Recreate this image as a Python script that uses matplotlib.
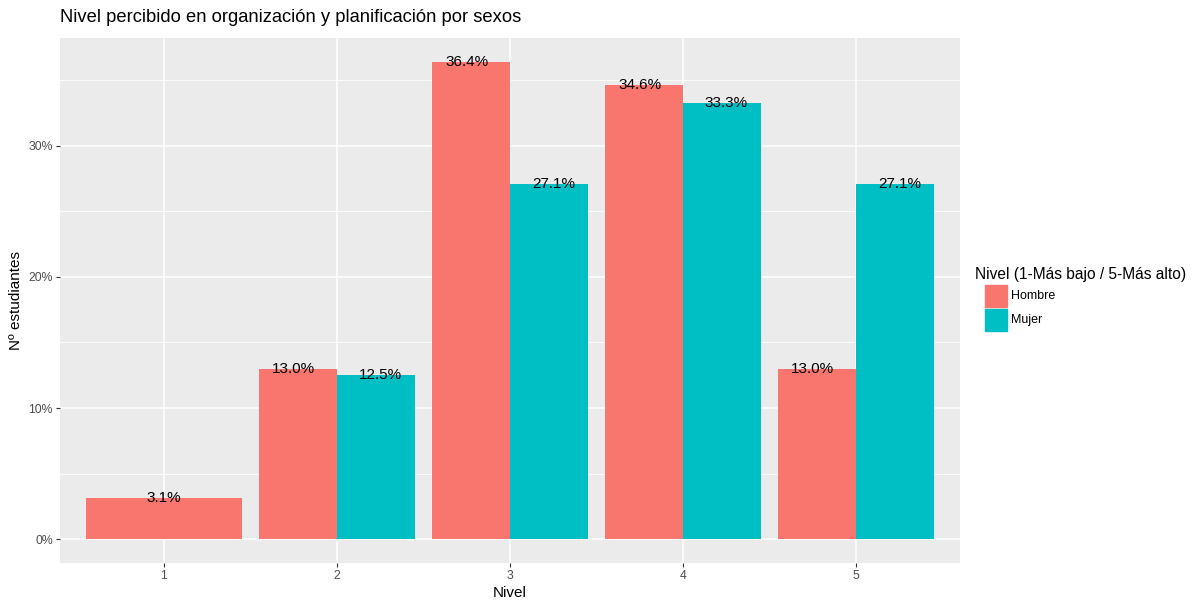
import numpy as np
import matplotlib.pyplot as plt
from matplotlib.patches import Rectangle

plt.rcParams['font.family'] = ['Liberation Sans', 'DejaVu Sans']

niveles = [1, 2, 3, 4, 5]
hombre = [3.1, 13.0, 36.4, 34.6, 13.0]
mujer = [None, 12.5, 27.1, 33.3, 27.1]
colores = {'Hombre': '#F8766D', 'Mujer': '#00BFC4'}

fig = plt.figure(figsize=(11.99, 6.0), dpi=100)
ax = fig.add_axes([60 / 1199, 37 / 600, 900 / 1199, 525 / 600])
ax.set_facecolor('#EBEBEB')

w = 0.9
dt = 0.25  # desplazamiento de etiquetas (dodge width 1)
fs_lab = 11
for x, h, m in zip(niveles, hombre, mujer):
    if m is None:
        ax.bar(x, h, width=w, color=colores['Hombre'], zorder=2)
        ax.text(x, h, f'{h:.1f}%', ha='center', va='center', fontsize=fs_lab, zorder=3)
    else:
        ax.bar(x - w / 4, h, width=w / 2, color=colores['Hombre'], zorder=2)
        ax.bar(x + w / 4, m, width=w / 2, color=colores['Mujer'], zorder=2)
        ax.text(x - dt, h, f'{h:.1f}%', ha='center', va='center', fontsize=fs_lab, zorder=3)
        ax.text(x + dt, m, f'{m:.1f}%', ha='center', va='center', fontsize=fs_lab, zorder=3)

ax.set_xlim(0.4, 5.6)
ax.set_ylim(-1.82, 38.22)
ax.set_xticks(niveles)
ax.set_xticklabels([str(n) for n in niveles])
ax.set_yticks([0, 10, 20, 30])
ax.set_yticklabels(['0%', '10%', '20%', '30%'])
ax.set_yticks([5, 15, 25, 35], minor=True)
ax.grid(which='major', color='white', linewidth=1.1, zorder=0)
ax.grid(which='minor', axis='y', color='white', linewidth=0.55, zorder=0)
ax.set_axisbelow(True)
for s in ax.spines.values():
    s.set_visible(False)
ax.tick_params(which='major', length=2.7, pad=2.5, color='#333333', labelcolor='#4D4D4D', labelsize=8.8)
ax.tick_params(which='minor', length=0)

ax.set_xlabel('Nivel', fontsize=11, labelpad=3)
ax.set_ylabel('Nº estudiantes', fontsize=11, labelpad=4)
fig.text(60 / 1199, 1 - 18 / 600, 'Nivel percibido en organización y planificación por sexos',
         fontsize=13.2, ha='left', va='center')

# legend
fig.text(975 / 1199, 1 - 274 / 600, 'Nivel (1-Más bajo / 5-Más alto)', fontsize=11.2, ha='left', va='center')
for i, (lab, col) in enumerate(colores.items()):
    y0 = 285 + i * 24
    fig.patches.append(Rectangle((985 / 1199, 1 - (y0 + 22) / 600), 22 / 1199, 22 / 600,
                                 transform=fig.transFigure, color=col, figure=fig))
    fig.text(1011 / 1199, 1 - (y0 + 11) / 600, lab, fontsize=9, ha='left', va='center')

fig.savefig('out.png', dpi=100)
